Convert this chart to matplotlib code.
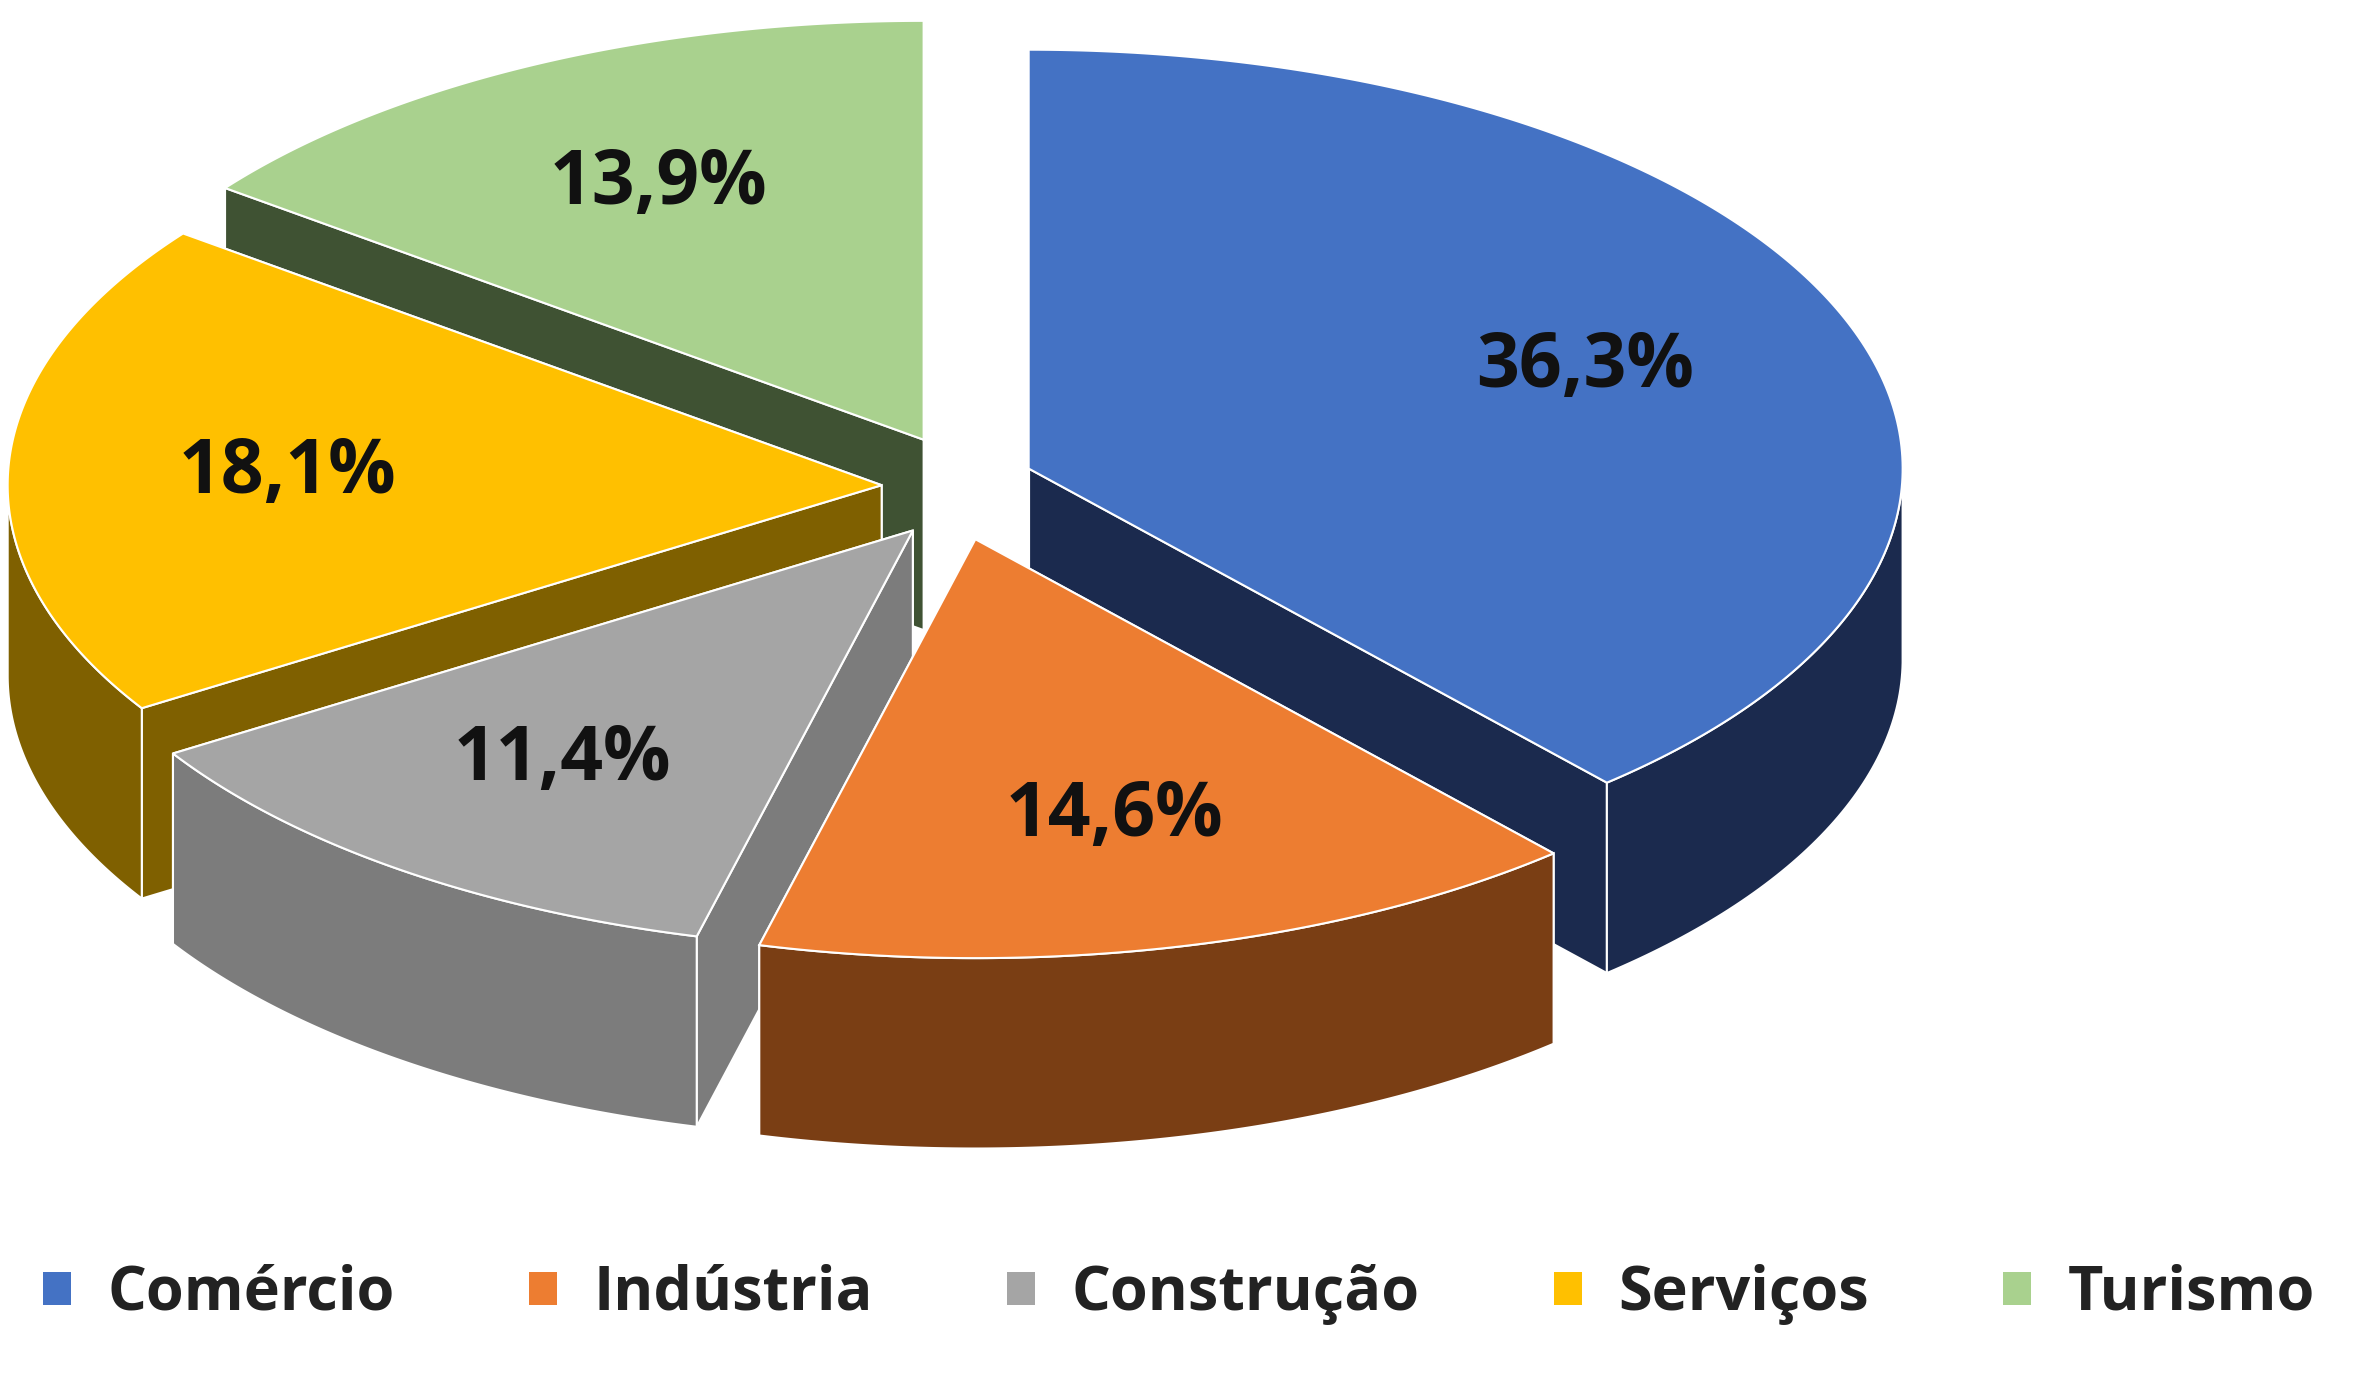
import numpy as np
import matplotlib.pyplot as plt
from matplotlib.patches import Polygon, Patch

labels = ["Comércio", "Indústria", "Construção", "Serviços", "Turismo"]
values = [36.3, 14.6, 11.4, 18.1, 13.9]
value_text = ["36,3%", "14,6%", "11,4%", "18,1%", "13,9%"]
top_colors = ["#4472C4", "#ED7D31", "#A5A5A5", "#FFC000", "#A9D18E"]
side_colors = ["#1B2A4E", "#7A3E14", "#7C7C7C", "#7F6000", "#3F5233"]

plt.rcParams['font.family'] = ['Open Sans', 'DejaVu Sans']

fig = plt.figure(figsize=(23.59, 13.8), dpi=100)
ax = fig.add_axes([0, 0, 1, 1])
ax.set_xlim(0, 1552)
ax.set_ylim(906, 0)
ax.axis('off')

cx, cy = 630, 320
rx, ry = 575, 275
depth = 125
explode = 50

fracs = np.array(values) / sum(values)
starts = 90 - 360 * np.concatenate([[0], np.cumsum(fracs)[:-1]])
ends = starts - 360 * fracs


def pt(a, r=1.0, ox=0, oy=0, dz=0):
    t = np.radians(a)
    return (ox + cx + r * rx * np.cos(t), oy + cy - r * ry * np.sin(t) + dz)


wedges = []
for i in range(len(values)):
    mid = (starts[i] + ends[i]) / 2
    ox = explode * np.cos(np.radians(mid))
    oy = -explode * np.sin(np.radians(mid)) * 0.7
    wedges.append((i, mid, ox, oy))

# paint from back to front
order = sorted(wedges, key=lambda w: np.sin(np.radians(w[1])), reverse=True)
for i, mid, ox, oy in order:
    a0, a1 = ends[i], starts[i]
    angs = np.linspace(a0, a1, 200)
    kw = dict(edgecolor="white", linewidth=1.5)
    # radial faces
    for a in (a0, a1):
        p = pt(a, 1, ox, oy)
        c = pt(a, 0, ox, oy)
        face = [c, p, (p[0], p[1] + depth), (c[0], c[1] + depth)]
        ax.add_patch(Polygon(face, closed=True, facecolor=side_colors[i], **kw))
    # outer wall, front part only
    front = [a for a in angs if np.sin(np.radians(a)) < 0]
    if front:
        top = [pt(a, 1, ox, oy) for a in front]
        bot = [pt(a, 1, ox, oy, depth) for a in front[::-1]]
        ax.add_patch(Polygon(top + bot, closed=True, facecolor=side_colors[i], **kw))
    # top face
    poly = [pt(0, 0, ox, oy)] + [pt(a, 1, ox, oy) for a in angs]
    ax.add_patch(Polygon(poly, closed=True, facecolor=top_colors[i], **kw))
    lx, ly = pt(mid, 0.68, ox, oy)
    ax.text(lx, ly, value_text[i], ha="center", va="center",
            fontsize=54, fontweight="bold", color="#111111")

handles = [Patch(facecolor=c) for c in top_colors]
fig.legend(handles, labels, loc="lower left", bbox_to_anchor=(-0.005, 0.0),
           ncol=5, frameon=False, fontsize=44, handlelength=0.45, handleheight=0.45,
           columnspacing=2.2, handletextpad=0.6, labelcolor="#222222",
           prop=dict(family=['Open Sans', 'DejaVu Sans'], weight='bold', size=44))

plt.savefig("out.png", dpi=100)
